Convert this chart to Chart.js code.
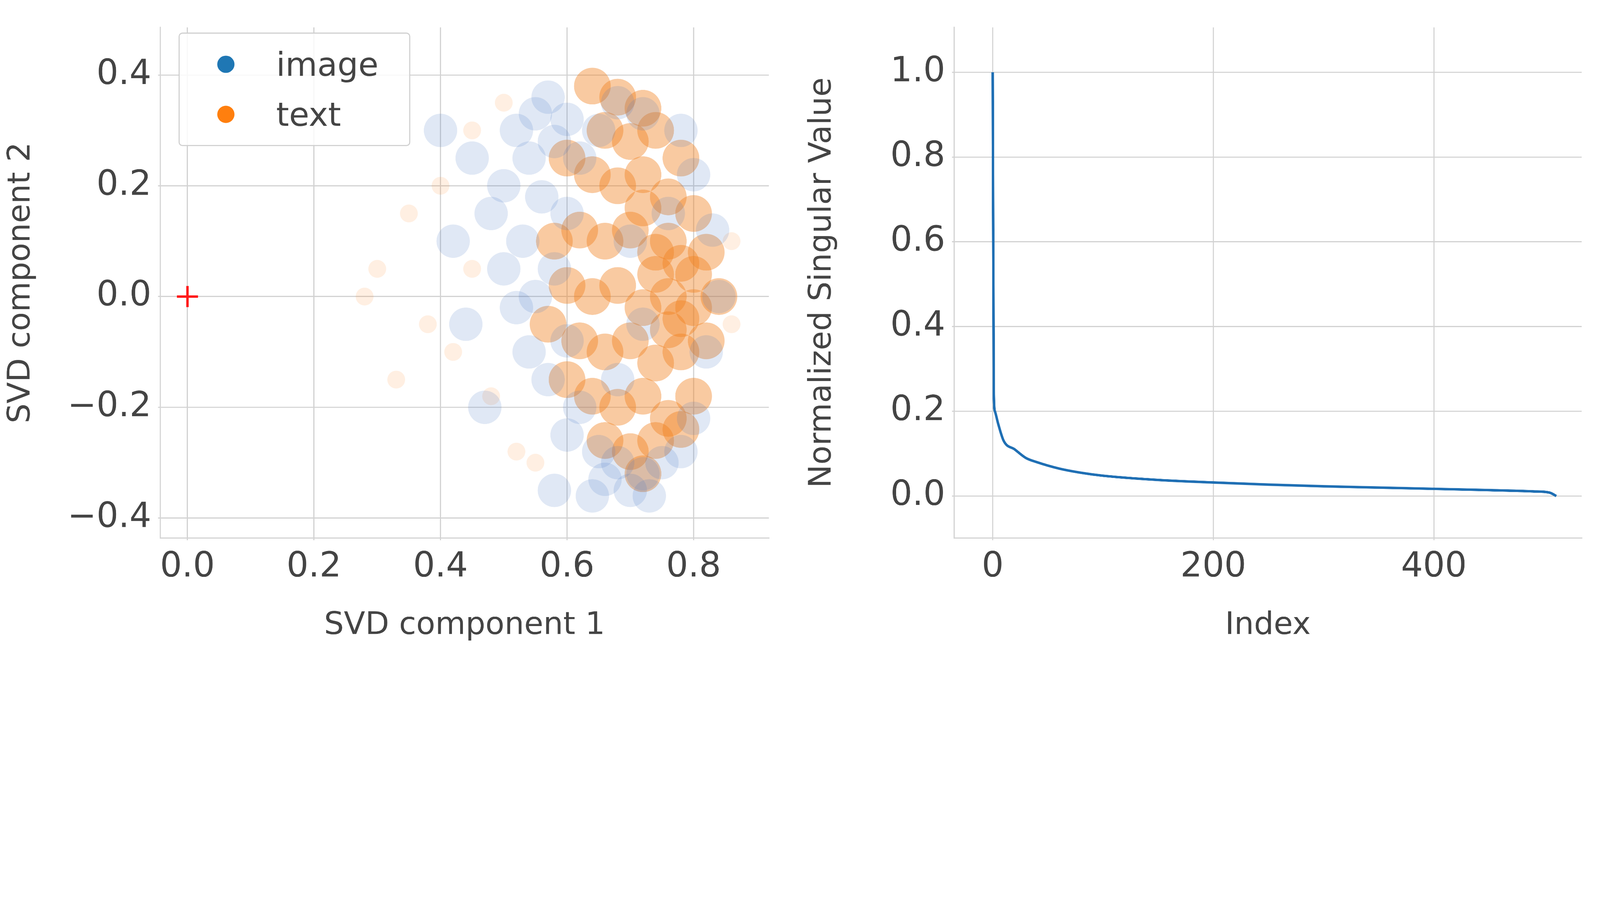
<!DOCTYPE html>
<html>
<head>
<meta charset="utf-8">
<script src="https://cdn.jsdelivr.net/npm/chart.js@4.4.0/dist/chart.umd.min.js"></script>
<style>
  html, body { margin: 0; background: #fff; font-family: "DejaVu Sans", sans-serif; overflow: hidden; }
  #wrap { position: absolute; left: 0; top: 0; width: 5752px; height: 2326px; transform-origin: 0 0; }
  .box { position: absolute; top: 0; height: 2326px; }
  #legend { position: absolute; left: 642px; top: 117px; width: 833px; height: 408px;
    border: 4px solid #d0d0d0; border-radius: 14px; background: rgba(255,255,255,0.85);
    box-sizing: border-box; font-size: 118px; color: #444; }
  .item { position: absolute; left: 135px; display: flex; align-items: center; height: 140px; }
  .dot { display: inline-block; width: 62px; height: 62px; border-radius: 50%; margin-right: 150px; }
</style>
</head>
<body>
<div id="wrap">
  <div class="box" style="left:0;width:2830px"><canvas id="scatter"></canvas></div>
  <div class="box" style="left:2880px;width:2840px"><canvas id="svals"></canvas></div>
  <div id="legend">
    <div class="item" style="top:40px"><span class="dot" style="background:#1f77b4"></span>image</div>
    <div class="item" style="top:220px"><span class="dot" style="background:#ff7f0e"></span>text</div>
  </div>
</div>
<script>
// left panel: hand-read clusters of the point cloud
const imagePts = [
  [0.52,0.30],[0.55,0.33],[0.58,0.28],[0.54,0.25],[0.50,0.20],[0.57,0.36],[0.60,0.32],[0.62,0.25],
  [0.48,0.15],[0.53,0.10],[0.56,0.18],[0.60,0.15],[0.65,0.30],[0.68,0.35],[0.72,0.33],
  [0.50,0.05],[0.52,-0.02],[0.55,0.00],[0.58,0.05],[0.54,-0.10],[0.57,-0.15],[0.60,-0.08],
  [0.62,-0.20],[0.60,-0.25],[0.65,-0.28],[0.66,-0.33],[0.70,-0.35],[0.72,-0.32],[0.75,-0.30],
  [0.68,-0.30],[0.73,-0.36],[0.78,-0.28],[0.80,-0.22],[0.64,-0.36],[0.82,-0.10],[0.84,0.0],
  [0.83,0.12],[0.80,0.22],[0.78,0.30],[0.70,0.10],[0.72,-0.05],[0.68,-0.15],[0.76,0.15],
  [0.45,0.25],[0.42,0.10],[0.44,-0.05],[0.47,-0.20],[0.58,-0.35],[0.40,0.30]
];
const textCorePts = [
  [0.64,0.38],[0.68,0.36],[0.72,0.34],[0.66,0.30],[0.70,0.28],[0.74,0.30],[0.78,0.25],[0.64,0.22],
  [0.68,0.20],[0.72,0.22],[0.76,0.18],[0.80,0.15],[0.62,0.12],[0.66,0.10],[0.70,0.12],[0.74,0.08],
  [0.78,0.06],[0.82,0.08],[0.60,0.02],[0.64,0.00],[0.68,0.02],[0.72,-0.02],[0.76,0.00],[0.80,-0.02],
  [0.84,0.00],[0.62,-0.08],[0.66,-0.10],[0.70,-0.08],[0.74,-0.12],[0.78,-0.10],[0.82,-0.08],
  [0.64,-0.18],[0.68,-0.20],[0.72,-0.18],[0.76,-0.22],[0.80,-0.18],[0.66,-0.26],[0.70,-0.28],
  [0.74,-0.26],[0.78,-0.24],[0.72,-0.32],[0.76,0.10],[0.78,-0.04],[0.74,0.04],[0.76,-0.06],
  [0.80,0.04],[0.72,0.16],[0.60,0.25],[0.58,0.10],[0.57,-0.05],[0.60,-0.15]
];
const textSparsePts = [
  [0.50,0.35],[0.45,0.30],[0.40,0.20],[0.35,0.15],[0.30,0.05],[0.38,-0.05],[0.42,-0.10],
  [0.48,-0.18],[0.33,-0.15],[0.28,0.00],[0.52,-0.28],[0.45,0.05],[0.55,-0.30],[0.86,-0.05],[0.86,0.10]
];
const originPt = [[0, 0]];
const scatterXTicks = [0, 0.2, 0.4, 0.6, 0.8];
const scatterYTicks = [-0.4, -0.2, 0, 0.2, 0.4];

// right panel: normalized singular values
const svIndex = [0, 1, 2, 5, 10, 20, 30, 40, 60, 80, 100, 150, 200, 250, 300, 350, 400, 450, 490, 505, 511];
const svValue = [1.0, 0.24, 0.2, 0.17, 0.13, 0.11, 0.09, 0.08, 0.065, 0.055, 0.048, 0.038, 0.032, 0.027, 0.023, 0.02, 0.017, 0.014, 0.011, 0.008, 0.0];
const svXTicks = [0, 200, 400];
const svYTicks = [0, 0.2, 0.4, 0.6, 0.8, 1.0];

// the viewport is narrower than 5752 css px, so scale the page down to fit its width
const scale = window.innerWidth / 5752;
document.getElementById("wrap").style.transform = "scale(" + scale + ")";

const toXY = arr => arr.map(p => ({ x: p[0], y: p[1] }));
const tickFont = { family: "DejaVu Sans", size: 124 };
const titleFont = { family: "DejaVu Sans", size: 112 };
const grid = { color: "#d2d2d2", lineWidth: 4 };
const border = { color: "#d2d2d2", width: 4 };
const fmt1 = v => (v < 0 ? "\u2212" : "") + Math.abs(v).toFixed(1);

function axis(min, max, ticks, title, isX, size, fmt) {
  return {
    type: "linear", min, max,
    grid, border,
    ticks: { font: tickFont, color: "#444", padding: 24, callback: fmt },
    afterBuildTicks: s => { s.ticks = ticks.map(v => ({ value: v })); },
    afterFit: s => { if (isX) s.height = size; else s.width = size; },
    title: { display: true, text: title, font: titleFont, color: "#444", padding: 10 }
  };
}

Chart.defaults.animation = false;
Chart.defaults.responsive = true;
Chart.defaults.maintainAspectRatio = false;
Chart.defaults.devicePixelRatio = (window.devicePixelRatio || 1) / scale;

new Chart(document.getElementById("scatter"), {
  type: "scatter",
  data: { datasets: [
    { data: toXY(imagePts), backgroundColor: "rgba(60,110,190,0.16)", borderWidth: 0, pointRadius: 60 },
    { data: toXY(textSparsePts), backgroundColor: "rgba(255,127,14,0.12)", borderWidth: 0, pointRadius: 32 },
    { data: toXY(textCorePts), backgroundColor: "rgba(240,128,30,0.42)", borderWidth: 0, pointRadius: 66 },
    { data: toXY(originPt), pointStyle: "cross", pointRadius: 38, borderColor: "#ff1a1a", borderWidth: 9 }
  ] },
  options: {
    layout: { padding: { top: 55, right: 30 } },
    plugins: { legend: { display: false }, tooltip: { enabled: false } },
    scales: {
      x: axis(-0.043, 0.919, scatterXTicks, "SVD component 1", true, 393, fmt1),
      y: axis(-0.436, 0.486, scatterYTicks, "SVD component 2", false, 576, fmt1)
    }
  }
});

new Chart(document.getElementById("svals"), {
  type: "line",
  data: { datasets: [{
    data: svIndex.map((x, i) => ({ x, y: svValue[i] })),
    borderColor: "#1f6fb4", borderWidth: 9, pointRadius: 0, cubicInterpolationMode: "monotone"
  }] },
  options: {
    layout: { padding: { top: 55, right: 34 } },
    plugins: { legend: { display: false }, tooltip: { enabled: false } },
    scales: {
      x: axis(-35, 534, svXTicks, "Index", true, 393, v => String(v)),
      y: axis(-0.099, 1.106, svYTicks, "Normalized Singular Value", false, 550, fmt1)
    }
  }
});
</script>
</body>
</html>
